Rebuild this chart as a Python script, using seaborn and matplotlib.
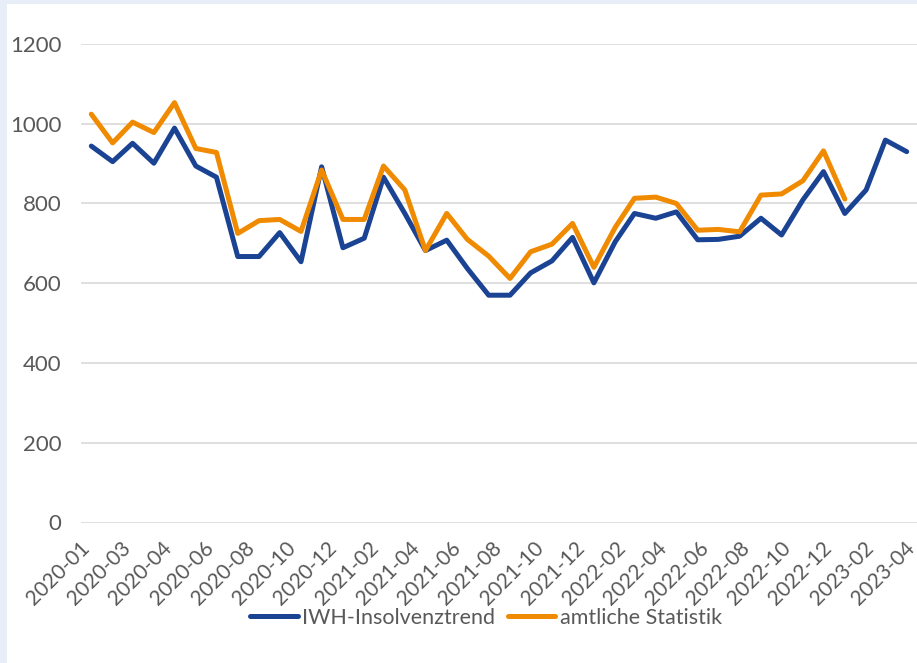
import numpy as np
import pandas as pd
import matplotlib
matplotlib.use("Agg")
import matplotlib.pyplot as plt
from matplotlib.patches import Rectangle
from matplotlib.lines import Line2D
from matplotlib.transforms import ScaledTranslation
import seaborn as sns

# ---- data ----
months_iwh = pd.date_range("2020-01-01", "2023-04-01", freq="MS")
months_amtl = pd.date_range("2020-01-01", "2023-01-01", freq="MS")

iwh = [944, 905, 951, 901, 989, 894, 866, 667, 667, 727,
       654, 892, 689, 713, 866, 775, 682, 708, 637, 570,
       570, 626, 656, 715, 601, 704, 775, 763, 779, 709,
       710, 718, 763, 721, 809, 880, 775, 834, 959, 930]
amtlich = [1024, 952, 1004, 978, 1053, 938, 928, 725, 757, 760,
           730, 884, 760, 760, 894, 834, 682, 775, 710, 668,
           612, 679, 698, 750, 640, 740, 813, 816, 800, 733,
           735, 729, 821, 824, 857, 932, 811]

series_names = ["IWH-Insolvenztrend", "amtliche Statistik"]
tick_labels = ["2020-01", "2020-03", "2020-04", "2020-06", "2020-08", "2020-10",
               "2020-12", "2021-02", "2021-04", "2021-06", "2021-08", "2021-10",
               "2021-12", "2022-02", "2022-04", "2022-06", "2022-08", "2022-10",
               "2022-12", "2023-02", "2023-04"]
y_ticks = [0, 200, 400, 600, 800, 1000, 1200]

df = pd.concat([
    pd.DataFrame({"Monat": months_iwh, "Wert": iwh, "Reihe": series_names[0]}),
    pd.DataFrame({"Monat": months_amtl, "Wert": amtlich, "Reihe": series_names[1]}),
])

# ---- style ----
sns.set_theme(style="white")
plt.rcParams["font.family"] = ["Lato", "DejaVu Sans"]
text_color = "#595959"
palette = {series_names[0]: "#1B4393", series_names[1]: "#F08A00"}

fig = plt.figure(figsize=(9.17, 6.63), dpi=100)
fig.patch.set_facecolor("#E7EEF8")
fig.add_artist(Rectangle((7 / 917, 0), 1, (663 - 4) / 663, transform=fig.transFigure,
                         facecolor="white", edgecolor="none", zorder=-10))

ax = fig.add_axes([81 / 917, 140.5 / 663, (917 - 81) / 917, (619 - 140.5) / 663])
ax.set_facecolor("none")

sns.lineplot(data=df, x="Monat", y="Wert", hue="Reihe", palette=palette,
             linewidth=3.6, ax=ax, legend=False, zorder=3,
             solid_capstyle="round", solid_joinstyle="round")

ax.set_ylim(0, 1200)
ax.set_yticks(y_ticks)
ax.set_xlim(pd.Timestamp("2019-12-17"), pd.Timestamp("2023-04-16"))
tick_pos = pd.date_range("2020-01-01", periods=len(tick_labels), freq="60D")
ax.set_xticks(tick_pos)
ax.set_xticklabels(tick_labels, rotation=45, ha="right", rotation_mode="anchor",
                   fontsize=15, color=text_color)
ax.tick_params(axis="x", length=0, pad=11)
ax.tick_params(axis="y", length=0, pad=14, labelsize=16, labelcolor=text_color)
offset = ScaledTranslation(-12 / 100, 0, fig.dpi_scale_trans)
for lab in ax.get_xticklabels():
    lab.set_transform(lab.get_transform() + offset)

ax.grid(axis="y", color="#D9D9D9", linewidth=1.2, zorder=0)
ax.grid(axis="x", visible=False)
for s in ax.spines.values():
    s.set_visible(False)
ax.set_xlabel("")
ax.set_ylabel("")

handles = [Line2D([0], [0], color=palette[n], linewidth=3.6, solid_capstyle="round")
           for n in series_names]
fig.legend(handles, series_names, loc="center", bbox_to_anchor=(486 / 917, 1 - 618 / 663),
           ncol=2, frameon=False, fontsize=15.5, handlelength=2.2, handletextpad=0.2,
           columnspacing=0.6, labelcolor=text_color)

fig.savefig("out.png", dpi=100, facecolor=fig.get_facecolor())
